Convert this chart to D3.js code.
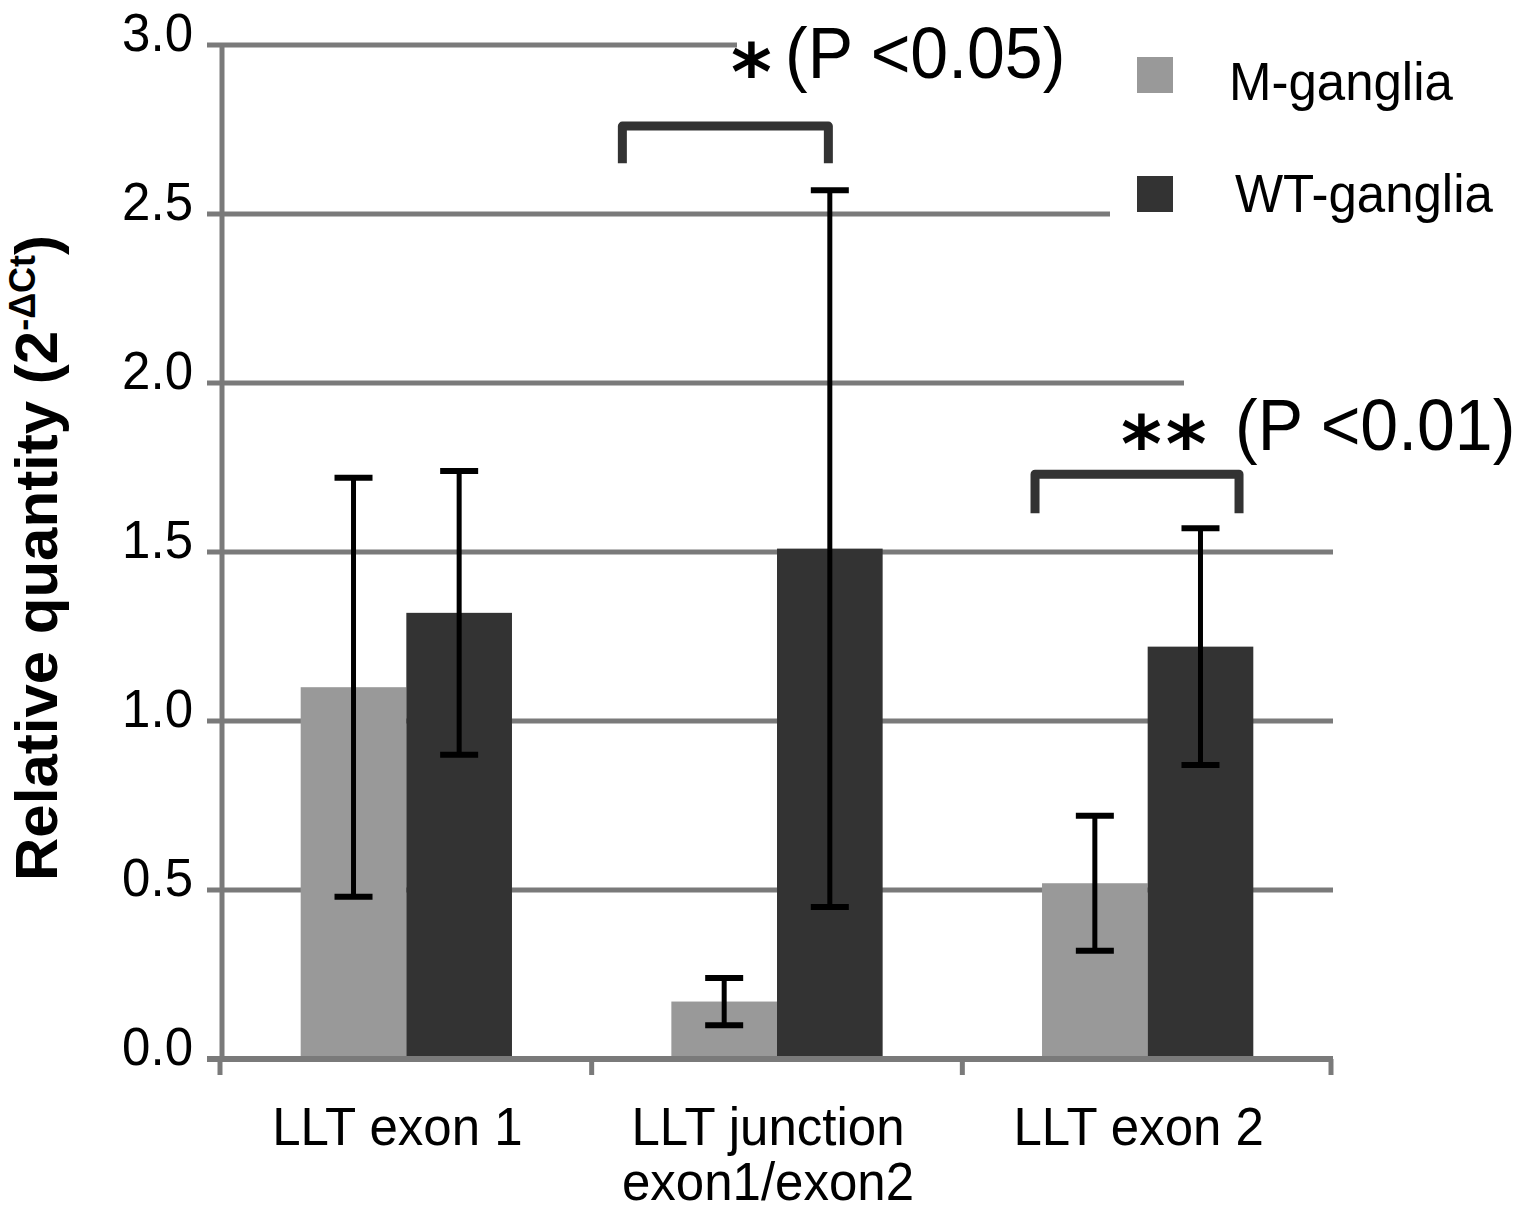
<!DOCTYPE html>
<html>
<head>
<meta charset="utf-8">
<script src="https://cdn.jsdelivr.net/npm/d3@7"></script>
<style>
  html, body { margin: 0; padding: 0; background: #ffffff; }
  svg { display: block; font-family: "Liberation Sans", Arial, Helvetica, sans-serif; }
</style>
</head>
<body>
<svg id="chart" width="1536" height="1212"></svg>
<script>
// ---- data ----
const categories = ["LLT exon 1", "LLT junction exon1/exon2", "LLT exon 2"];
const categoryLabels = [["LLT exon 1"], ["LLT junction", "exon1/exon2"], ["LLT exon 2"]];
const seriesNames = ["M-ganglia", "WT-ganglia"];
const mGanglia = [1.10, 0.17, 0.52];
const mGangliaErr = [0.62, 0.07, 0.20];
const wtGanglia = [1.32, 1.51, 1.22];
const wtGangliaErr = [0.42, 1.06, 0.35];
const yTicks = [0, 0.5, 1.0, 1.5, 2.0, 2.5, 3.0];
const sigMarks = ["*", "**"];
const sigLabels = ["(P <0.05)", "(P <0.01)"];

// ---- layout ----
const svg = d3.select("#chart");
const colors = { "M-ganglia": "#999999", "WT-ganglia": "#333333" };
const gridColor = "#7a7a7a";
const axisX = 222, plotLeft = 207, plotRight = 1333;
const stretch = 1.07; // text is set slightly tall

const y = d3.scaleLinear().domain([0, 3]).range([1059, 45]);
const x0 = d3.scaleBand().domain(categories).range([221, 1333])
  .paddingInner(0.43).paddingOuter(0.215);
const x1 = d3.scaleBand().domain(seriesNames).range([0, x0.bandwidth()]).padding(0);

const rows = categories.map((c, i) => ({
  cat: c,
  values: [
    { s: seriesNames[0], v: mGanglia[i], e: mGangliaErr[i] },
    { s: seriesNames[1], v: wtGanglia[i], e: wtGangliaErr[i] }
  ]
}));

const place = (tx, ty) => `translate(${tx},${ty}) scale(1,${stretch})`;

// horizontal gridlines (they also extend left of the axis as tick marks)
svg.append("g").selectAll("line").data(yTicks.filter(t => t > 0)).join("line")
  .attr("x1", plotLeft).attr("x2", plotRight)
  .attr("y1", d => y(d)).attr("y2", d => y(d))
  .attr("stroke", gridColor).attr("stroke-width", 5);

// opaque text boxes of the annotations and legend
const boxes = [
  { x: 737, y: 15, w: 373, h: 95 },
  { x: 1110, y: 15, w: 426, h: 230 },
  { x: 1184, y: 365, w: 352, h: 105 }
];
svg.append("g").selectAll("rect").data(boxes).join("rect")
  .attr("x", d => d.x).attr("y", d => d.y).attr("width", d => d.w).attr("height", d => d.h)
  .attr("fill", "#ffffff");

// y axis line
svg.append("line")
  .attr("x1", axisX).attr("x2", axisX).attr("y1", y(3) + 2).attr("y2", y(0) + 3)
  .attr("stroke", gridColor).attr("stroke-width", 5);

// y tick labels
svg.append("g").selectAll("text").data(yTicks).join("text")
  .attr("transform", d => place(193, y(d) + 6))
  .attr("text-anchor", "end").attr("font-size", 51).attr("fill", "#000")
  .text(d => d3.format(".1f")(d));

// bars
const groups = svg.append("g").selectAll("g").data(rows).join("g")
  .attr("transform", d => `translate(${x0(d.cat)},0)`);
groups.selectAll("rect").data(d => d.values).join("rect")
  .attr("x", d => x1(d.s)).attr("width", x1.bandwidth())
  .attr("y", d => y(d.v)).attr("height", d => y(0) - y(d.v))
  .attr("fill", d => colors[d.s]);

// x axis line and tick marks between the category groups
const gaps = categories.slice(1).map((c, i) =>
  (x0(categories[i]) + x0.bandwidth() + x0(c)) / 2);
const bounds = [220, ...gaps, 1331];
svg.append("line")
  .attr("x1", plotLeft).attr("x2", plotRight).attr("y1", y(0)).attr("y2", y(0))
  .attr("stroke", gridColor).attr("stroke-width", 6);
svg.append("g").selectAll("line").data(bounds).join("line")
  .attr("x1", d => d).attr("x2", d => d).attr("y1", y(0)).attr("y2", y(0) + 16)
  .attr("stroke", gridColor).attr("stroke-width", 5);

// error bars
const capW = 38;
const eb = groups.selectAll("g.err").data(d => d.values).join("g").attr("class", "err");
eb.append("line")
  .attr("x1", d => x1(d.s) + x1.bandwidth() / 2).attr("x2", d => x1(d.s) + x1.bandwidth() / 2)
  .attr("y1", d => y(d.v + d.e)).attr("y2", d => y(d.v - d.e))
  .attr("stroke", "#000").attr("stroke-width", 5);
eb.selectAll("line.cap").data(d => [
    { cx: x1(d.s) + x1.bandwidth() / 2, yv: d.v + d.e },
    { cx: x1(d.s) + x1.bandwidth() / 2, yv: d.v - d.e }
  ]).join("line").attr("class", "cap")
  .attr("x1", d => d.cx - capW / 2).attr("x2", d => d.cx + capW / 2)
  .attr("y1", d => y(d.yv)).attr("y2", d => y(d.yv))
  .attr("stroke", "#000").attr("stroke-width", 6);

// category labels
const catText = svg.append("g").selectAll("text").data(categories).join("text")
  .attr("transform", d => place(x0(d) + x0.bandwidth() / 2 - 9, 1145))
  .attr("text-anchor", "middle").attr("font-size", 51).attr("fill", "#000");
catText.selectAll("tspan").data((d, i) => categoryLabels[i]).join("tspan")
  .attr("x", 0)
  .attr("dy", (d, i) => i === 0 ? 0 : 55 / stretch)
  .text(d => d);

// y axis title
const title = svg.append("text")
  .attr("transform", "translate(57,558) rotate(-90)")
  .attr("text-anchor", "middle").attr("font-size", 60).attr("font-weight", "bold").attr("fill", "#000");
title.append("tspan").text("Relative quantity (2");
title.append("tspan").attr("font-size", 36).attr("dy", -22).text("-ΔCt");
title.append("tspan").attr("dy", 22).text(")");

// significance brackets
const brackets = [
  { cat: categories[1], l: -49, r: 157, top: 2.76, bottom: 2.65 },
  { cat: categories[2], l: -7, r: 197, top: 1.73, bottom: 1.615 }
];
svg.append("g").selectAll("path").data(brackets).join("path")
  .attr("d", d => {
    const a = x0(d.cat) + d.l, b = x0(d.cat) + d.r;
    return `M${a},${y(d.bottom)} L${a},${y(d.top)} L${b},${y(d.top)} L${b},${y(d.bottom)}`;
  })
  .attr("fill", "none").attr("stroke", "#333333").attr("stroke-width", 9)
  .attr("stroke-linejoin", "round");

// significance labels
const sigPos = [
  { sx: 731, tx: 785, base: 78 },
  { sx: 1121, tx: 1235, base: 450 }
];
svg.append("g").selectAll("text").data(sigMarks).join("text")
  .attr("x", (d, i) => sigPos[i].sx).attr("y", (d, i) => sigPos[i].base + 22)
  .attr("font-family", "'DejaVu Sans', sans-serif").attr("font-weight", "bold")
  .attr("font-size", 78).attr("letter-spacing", 4).attr("fill", "#000")
  .text(d => d);
svg.append("g").selectAll("text").data(sigLabels).join("text")
  .attr("transform", (d, i) => place(sigPos[i].tx, sigPos[i].base))
  .attr("font-size", 68).attr("fill", "#000")
  .text(d => d);

// legend
const legend = svg.append("g").selectAll("g").data(seriesNames).join("g");
legend.append("rect")
  .attr("x", 1137).attr("y", (d, i) => 57 + i * 119).attr("width", 36).attr("height", 36)
  .attr("fill", d => colors[d]);
legend.append("text")
  .attr("transform", (d, i) => place(1229 + i * 6, 100 + i * 112))
  .attr("font-size", 51).attr("fill", "#000")
  .text(d => d);
</script>
</body>
</html>
